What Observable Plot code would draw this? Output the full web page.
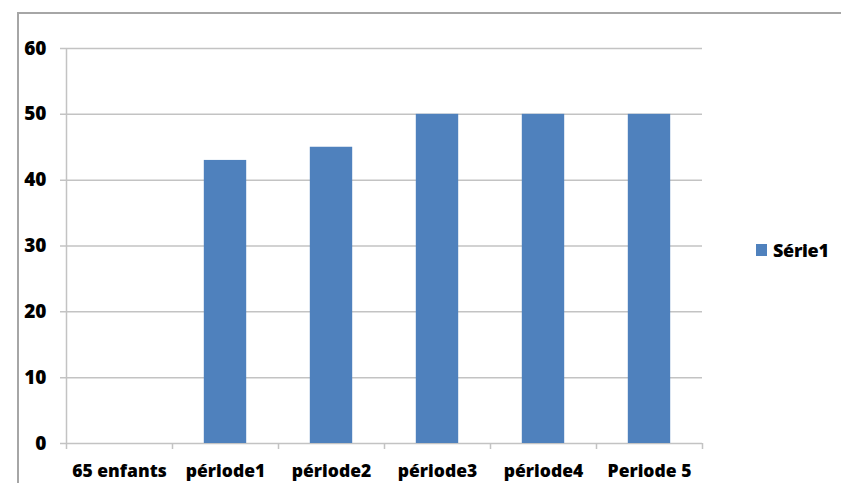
<!DOCTYPE html>
<html>
<head>
<meta charset="utf-8">
<script src="https://cdn.jsdelivr.net/npm/d3@7"></script>
<script src="https://cdn.jsdelivr.net/npm/@observablehq/plot@0.6"></script>
<style>
  html, body { margin: 0; padding: 0; background: #fff; }
  #wrap { position: relative; width: 841px; height: 483px; overflow: hidden; font-family: "Open Sans", sans-serif; }
  #border { position: absolute; left: 17px; top: 12px; width: 900px; height: 600px; border-top: 2px solid #a6a6a6; border-left: 2px solid #a6a6a6; }
  #legend { position: absolute; left: 756px; top: 238px; display: flex; align-items: center; font-weight: 800; font-size: 18px; color: #000; letter-spacing: -0.3px; }
  #legend .sw { width: 11px; height: 12px; background: #4f81bd; margin-right: 6px; }
  svg { position: absolute; left: 0; top: 0; }
</style>
</head>
<body>
<div id="wrap">
  <div id="border"></div>
  <div id="legend"><span class="sw"></span><span id="legtext"></span></div>
</div>
<script>
const categories = ["65 enfants", "période1", "période2", "période3", "période4", "Periode 5"];
const values = [0, 43, 45, 50, 50, 50];
const seriesName = "Série1";
const yTicks = [0, 10, 20, 30, 40, 50, 60];

const W = 841, H = 483;
const mL = 66, mR = 139, mT = 48, mB = 40;
const band = (W - mL - mR) / categories.length;
const data = categories.map((c, i) => ({cat: c, v: values[i]}));
const barColor = "#4f81bd";
const gridColor = "#c3c3c3";

const chart = Plot.plot({
  width: W, height: H,
  marginLeft: mL, marginRight: mR, marginTop: mT, marginBottom: mB,
  style: {fontFamily: "'Open Sans', sans-serif", fontWeight: 800, fontSize: "18px", color: "#000", background: "transparent"},
  x: {type: "band", domain: categories, padding: 0, label: null},
  y: {domain: [0, 60], label: null},
  marks: [
    Plot.ruleY(yTicks, {stroke: gridColor, strokeWidth: 1.5, insetLeft: -6}),
    Plot.ruleX([categories[0]], {y1: 0, y2: 60, dx: -band / 2, stroke: gridColor, strokeWidth: 1.5}),
    Plot.ruleX(categories, {y1: 0, y2: 0, insetBottom: -6, dx: -band / 2, stroke: gridColor, strokeWidth: 1.5}),
    Plot.ruleX([categories[categories.length - 1]], {y1: 0, y2: 0, insetBottom: -6, dx: band / 2, stroke: gridColor, strokeWidth: 1.5}),
    Plot.barY(data.filter(d => d.v > 0), {x: "cat", y: "v", fill: barColor, insetLeft: band * 0.3, insetRight: band * 0.3}),
    Plot.axisY(yTicks, {tickSize: 0, tickPadding: 20, fontSize: 19, fontWeight: 800, label: null}),
    Plot.axisX({tickSize: 0, tickPadding: 21, fontSize: 17.5, fontWeight: 800, label: null})
  ]
});
document.getElementById("legtext").textContent = seriesName;
document.getElementById("wrap").appendChild(chart);
</script>
</body>
</html>
